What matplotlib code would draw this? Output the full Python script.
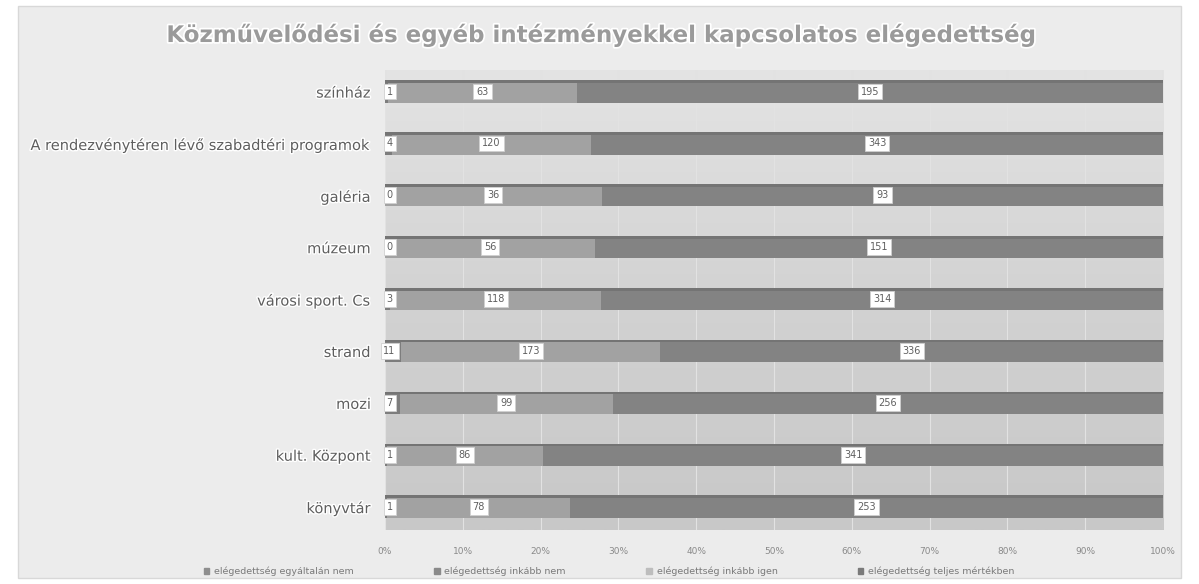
import matplotlib
matplotlib.use("Agg")
import matplotlib.pyplot as plt
import matplotlib.patheffects as pe
from matplotlib.colors import LinearSegmentedColormap
import numpy as np

categories = [
    "színház",
    "A rendezvénytéren lévő szabadtéri programok",
    "galéria",
    "múzeum",
    "városi sport. Cs",
    "strand",
    "mozi",
    "kult. Központ",
    "könyvtár",
]
series_names = [
    "elégedettség egyáltalán nem",
    "elégedettség inkább nem",
    "elégedettség inkább igen",
    "elégedettség teljes mértékben",
]
s_egyaltalan = [0, 0, 0, 0, 0, 0, 0, 0, 0]
s_inkabb_nem = [1, 4, 0, 0, 3, 11, 7, 1, 1]
s_inkabb_igen = [63, 120, 36, 56, 118, 173, 99, 86, 78]
s_teljes = [195, 343, 93, 151, 314, 336, 256, 341, 253]
xtick_labels = ["0%", "10%", "20%", "30%", "40%", "50%", "60%", "70%", "80%", "90%", "100%"]

series = [s_egyaltalan, s_inkabb_nem, s_inkabb_igen, s_teljes]
bar_colors = ["#8e8e8e", "#7d7d7d", "#a2a2a2", "#838383"]
legend_colors = ["#8e8e8e", "#8a8a8a", "#bdbdbd", "#7a7a7a"]

data = np.array(series, dtype=float)
totals = data.sum(axis=0)
pct = data / totals * 100

fig = plt.figure(figsize=(11.99, 5.84), dpi=100)
fig.patch.set_facecolor("white")
bg = plt.Rectangle((0.015, 0.01), 0.97, 0.98, transform=fig.transFigure,
                   facecolor="#ececec", edgecolor="#d8d8d8", lw=1, zorder=-10)
fig.patches.append(bg)

ax = fig.add_axes([0.321, 0.0925, 0.649, 0.788])
ax.set_facecolor("#cdcdcd")
n = len(categories)
ylo, yhi = n - 1 + 0.45, -0.42
# back-wall gradient
cmap = LinearSegmentedColormap.from_list("wall", ["#e4e4e4", "#d2d2d2", "#c8c8c8"])
grad = np.linspace(0, 1, 256).reshape(-1, 1)
ax.imshow(grad, aspect="auto", cmap=cmap, extent=[0, 100, ylo, yhi], origin="upper",
          zorder=0)

y = np.arange(n)
h = 0.43
left = np.zeros(n)
for i, (vals, col) in enumerate(zip(pct, bar_colors)):
    ax.barh(y, vals, left=left, height=h, color=col, edgecolor="none", zorder=3,
            label=series_names[i])
    ax.barh(y - h / 2 + 0.025, vals, left=left, height=0.05, color="#747474",
            edgecolor="none", zorder=3.5)
    left += vals

bbox = dict(boxstyle="square,pad=0.3", facecolor="white", edgecolor="#d0d0d0", lw=0.6)
for j in range(n):
    ax.text(0.6, y[j], str(s_inkabb_nem[j]), ha="center", va="center", fontsize=7,
            color="#606060", bbox=bbox, zorder=6)
    start = pct[0, j] + pct[1, j]
    mid3 = start + pct[2, j] / 2
    ax.text(mid3, y[j], str(s_inkabb_igen[j]), ha="center", va="center", fontsize=7,
            color="#606060", bbox=bbox, zorder=6)
    mid4 = start + pct[2, j] + pct[3, j] / 2
    ax.text(mid4, y[j], str(s_teljes[j]), ha="center", va="center", fontsize=7,
            color="#606060", bbox=bbox, zorder=6)

ax.set_xlim(0, 100)
ax.set_ylim(ylo, yhi)
ax.set_xticks(np.arange(0, 101, 10))
ax.set_xticklabels(xtick_labels, fontsize=6.5, color="#8a8a8a")
ax.set_yticks(y)
ax.set_yticklabels(categories, fontsize=10.5, color="#5e5e5e")
for t in ax.get_yticklabels():
    t.set_path_effects([pe.withStroke(linewidth=2, foreground="white")])
ax.tick_params(axis="both", length=0)
ax.tick_params(axis="x", pad=12)
ax.tick_params(axis="y", pad=10)
ax.grid(axis="x", color="#e2e2e2", lw=0.8, zorder=1)
for s in ax.spines.values():
    s.set_visible(False)

fig.text(0.5, 0.94, "Közművelődési és egyéb intézményekkel kapcsolatos elégedettség",
         ha="center", va="center", fontsize=16.5, fontweight="bold", color="#9a9a9a",
         path_effects=[pe.withStroke(linewidth=2.5, foreground="white")])

handles = [plt.Rectangle((0, 0), 1, 1, color=c) for c in legend_colors]
fig.legend(handles, series_names, loc="center", bbox_to_anchor=(0.508, 0.022), ncol=4,
           frameon=False, fontsize=6.8, handlelength=0.6, handleheight=0.6,
           columnspacing=8.5, handletextpad=0.5, labelcolor="#7a7a7a")

fig.savefig("out.png", dpi=100, facecolor=fig.get_facecolor())
